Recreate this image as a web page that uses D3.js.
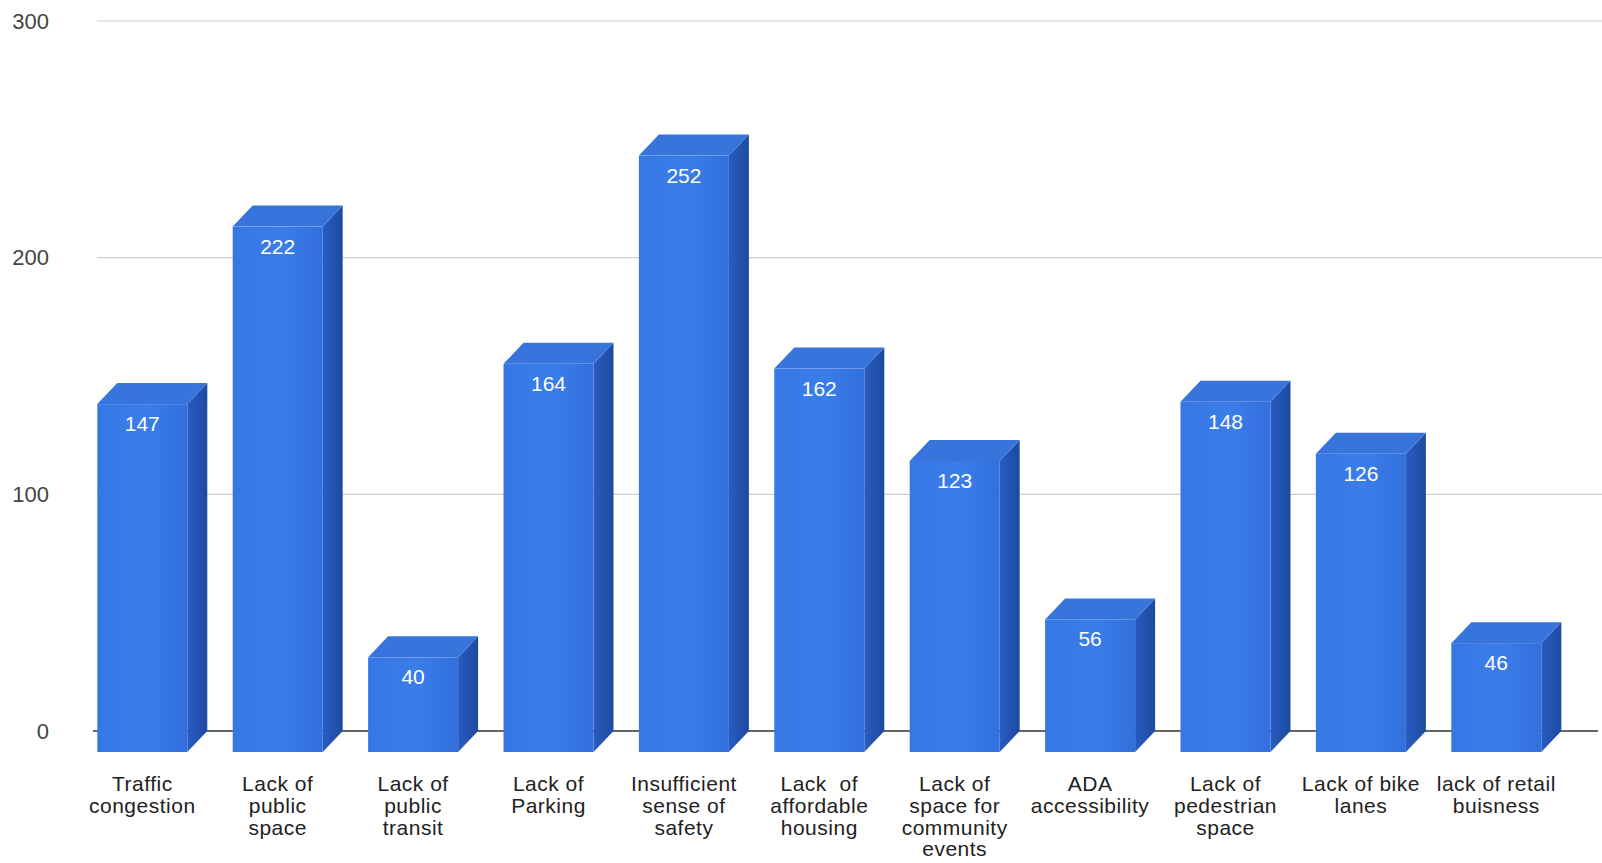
<!DOCTYPE html>
<html>
<head>
<meta charset="utf-8">
<script src="https://cdn.jsdelivr.net/npm/d3@7"></script>
<style>
  html, body { margin: 0; padding: 0; background: #fff; }
  svg { display: block; font-family: "Liberation Sans", Arial, sans-serif; }
</style>
</head>
<body>
<svg id="chart" width="1602" height="863"></svg>
<script>
// Survey responses: problems reported in the neighbourhood
const categories = [
  "Traffic congestion", "Lack of public space", "Lack of public transit",
  "Lack of Parking", "Insufficient sense of safety", "Lack  of affordable housing",
  "Lack of space for community events", "ADA accessibility",
  "Lack of pedestrian space", "Lack of bike lanes", "lack of retail buisness"
];
// how each category label breaks into lines under its bar
const labelLines = [
  ["Traffic", "congestion"],
  ["Lack of", "public", "space"],
  ["Lack of", "public", "transit"],
  ["Lack of", "Parking"],
  ["Insufficient", "sense of", "safety"],
  ["Lack  of", "affordable", "housing"],
  ["Lack of", "space for", "community", "events"],
  ["ADA", "accessibility"],
  ["Lack of", "pedestrian", "space"],
  ["Lack of bike", "lanes"],
  ["lack of retail", "buisness"]
];
const counts = [147, 222, 40, 164, 252, 162, 123, 56, 148, 126, 46];
const yTicks = [0, 100, 200, 300];

const svg = d3.select("#chart");

// 3D depth of the boxes: the front face sits down-left of the back wall
const depthX = 20, depthY = 21;

const x = d3.scaleBand()
  .domain(categories)
  .range([97.3, 1541.3])
  .paddingInner(0.3353)
  .paddingOuter(0);

// scale on the back wall (gridlines), front faces are shifted by depth
const y = d3.scaleLinear().domain([0, 300]).range([731, 21]);

const defs = svg.append("defs");
const sideGrad = defs.append("linearGradient").attr("id", "sideGrad")
  .attr("x1", 0).attr("x2", 1).attr("y1", 0).attr("y2", 0);
sideGrad.append("stop").attr("offset", "0%").attr("stop-color", "#295cc2");
sideGrad.append("stop").attr("offset", "100%").attr("stop-color", "#1d4a9f");

const frontGrad = defs.append("linearGradient").attr("id", "frontGrad")
  .attr("x1", 0).attr("x2", 1).attr("y1", 0).attr("y2", 0);
frontGrad.append("stop").attr("offset", "0%").attr("stop-color", "#3677e4");
frontGrad.append("stop").attr("offset", "55%").attr("stop-color", "#3a7de9");
frontGrad.append("stop").attr("offset", "100%").attr("stop-color", "#3270dc");

// gridlines on the back wall
svg.append("g").selectAll("line")
  .data(yTicks.filter(d => d > 0))
  .join("line")
  .attr("x1", 97).attr("x2", 1602)
  .attr("y1", d => y(d)).attr("y2", d => y(d))
  .attr("stroke", "#cfcfcf").attr("stroke-width", 1.2);

// y axis labels
const yAxis = d3.axisLeft(y).tickValues(yTicks).tickSize(0).tickPadding(0);
const yg = svg.append("g").attr("transform", "translate(49,0)").call(yAxis);
yg.select(".domain").remove();
yg.selectAll("text")
  .attr("font-size", 22)
  .attr("font-family", "'Liberation Sans', Arial, sans-serif")
  .attr("fill", "#444");

// baseline
svg.append("line")
  .attr("x1", 93).attr("x2", 1598)
  .attr("y1", y(0)).attr("y2", y(0))
  .attr("stroke", "#333").attr("stroke-width", 1.5);

const data = categories.map((c, i) => ({ c, v: counts[i], lines: labelLines[i] }));
const w = x.bandwidth();

const bars = svg.append("g").selectAll("g.bar")
  .data(data)
  .join("g").attr("class", "bar");

// side face
bars.append("path")
  .attr("d", d => {
    const x0 = x(d.c) + w, yt = y(d.v) + depthY, yb = y(0) + depthY;
    return `M${x0},${yt} L${x0 + depthX},${yt - depthY} L${x0 + depthX},${yb - depthY} L${x0},${yb} Z`;
  })
  .attr("fill", "url(#sideGrad)");

// top face
bars.append("path")
  .attr("d", d => {
    const x0 = x(d.c), yt = y(d.v) + depthY;
    return `M${x0},${yt} L${x0 + depthX},${yt - depthY} L${x0 + w + depthX},${yt - depthY} L${x0 + w},${yt} Z`;
  })
  .attr("fill", "#3774dc");

// front face
bars.append("rect")
  .attr("x", d => x(d.c))
  .attr("y", d => y(d.v) + depthY)
  .attr("width", w)
  .attr("height", d => y(0) - y(d.v))
  .attr("fill", "url(#frontGrad)");

// value labels on the front faces
bars.append("text")
  .attr("x", d => x(d.c) + w / 2)
  .attr("y", d => y(d.v) + depthY + 27)
  .attr("text-anchor", "middle")
  .attr("font-size", 21)
  .attr("fill", "#ffffff")
  .text(d => d.v);

// category labels
const labels = svg.append("g").selectAll("text")
  .data(data)
  .join("text")
  .attr("text-anchor", "middle")
  .attr("font-size", 21)
  .attr("letter-spacing", 0.5)
  .attr("fill", "#222");
labels.selectAll("tspan")
  .data(d => d.lines.map(t => ({ t, cx: x(d.c) + w / 2 })))
  .join("tspan")
  .attr("x", d => d.cx)
  .attr("y", (d, i) => 791 + i * 21.8)
  .attr("xml:space", "preserve")
  .style("white-space", "pre")
  .text(d => d.t);
</script>
</body>
</html>
